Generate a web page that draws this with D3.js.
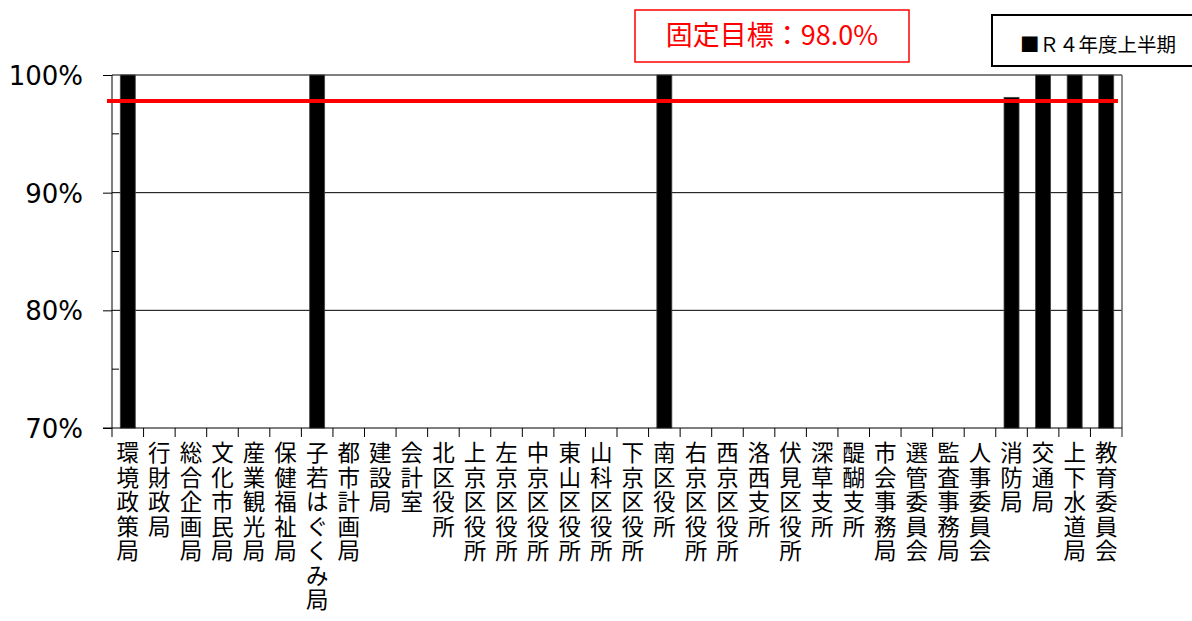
<!DOCTYPE html>
<html>
<head>
<meta charset="utf-8" />
<title>R4年度上半期</title>
<script src="https://d3js.org/d3.v7.min.js"></script>
<style>
  body { margin: 0; background: #fff; }
  svg { display: block; font-family: "Noto Sans CJK JP", "Noto Sans", sans-serif; }
</style>
</head>
<body>
<div id="chart"></div>
<script>
// 部局名
var categories = ["環境政策局","行財政局","総合企画局","文化市民局","産業観光局","保健福祉局","子若はぐくみ局","都市計画局","建設局","会計室","北区役所","上京区役所","左京区役所","中京区役所","東山区役所","山科区役所","下京区役所","南区役所","右京区役所","西京区役所","洛西支所","伏見区役所","深草支所","醍醐支所","市会事務局","選管委員会","監査事務局","人事委員会","消防局","交通局","上下水道局","教育委員会"];
// R4年度上半期 (%), 表示されていないものは null
var values = [100,null,null,null,null,null,100,null,null,null,null,null,null,null,null,null,null,100,null,null,null,null,null,null,null,null,null,null,98.1,100,100,100];
var targetLabel = "固定目標：98.0%";
var targetLine = 97.8;
var yTicks = [70, 80, 90, 100];
var seriesName = "■Ｒ４年度上半期";

var width = 1192, height = 621;
var pLeft = 112, pRight = 1122, pTop = 75, pBottom = 428;

var svg = d3.select("#chart").append("svg").attr("width", width).attr("height", height);

var x = d3.scaleBand().domain(categories).range([pLeft, pRight]).paddingInner(0.525).paddingOuter(0.2625);
var xb = d3.scaleBand().domain(categories).range([pLeft, pRight]);
var y = d3.scaleLinear().domain([70, 100]).range([pBottom, pTop]);

// グリッド線
svg.selectAll(".grid").data(yTicks.slice(1)).enter().append("line")
  .attr("x1", pLeft).attr("x2", pRight)
  .attr("y1", d => y(d)).attr("y2", d => y(d))
  .attr("stroke", "#000").attr("stroke-width", 1);

// 右枠
svg.append("line").attr("x1", pRight).attr("x2", pRight).attr("y1", pTop).attr("y2", pBottom + 9)
  .attr("stroke", "#666").attr("stroke-width", 1.5);

// Y軸
var yAxis = d3.axisLeft(y).tickValues(yTicks).tickSize(9).tickFormat(d => d + "%");
var gy = svg.append("g").attr("transform", "translate(" + pLeft + ",0)").call(yAxis);
gy.attr("font-family", null);
gy.select(".domain").attr("d", "M0," + pTop + "V" + (pBottom + 9)).attr("stroke", "#000");
gy.selectAll("text").attr("font-size", 26).attr("x", -29).attr("dy", "0.36em").attr("fill", "#000")
  .style("font-family", "'DejaVu Sans', Verdana, sans-serif");
// 補助目盛
svg.selectAll(".minor").data([75, 85, 95]).enter().append("line")
  .attr("x1", pLeft).attr("x2", pLeft + 7)
  .attr("y1", d => y(d)).attr("y2", d => y(d)).attr("stroke", "#000");

// 棒
svg.selectAll(".bar").data(categories.map((c, i) => ({c: c, v: values[i]})).filter(d => d.v != null))
  .enter().append("rect")
  .attr("x", d => x(d.c)).attr("width", x.bandwidth())
  .attr("y", d => y(Math.min(d.v, 100))).attr("height", d => pBottom - y(Math.min(d.v, 100)))
  .attr("fill", "#000").attr("stroke", "#444").attr("stroke-width", 0.8);

// X軸
svg.append("line").attr("x1", pLeft - 9).attr("x2", pRight).attr("y1", pBottom).attr("y2", pBottom)
  .attr("stroke", "#000").attr("stroke-width", 1.2);
svg.selectAll(".xtick").data(categories.slice(1)).enter().append("line")
  .attr("x1", d => xb(d)).attr("x2", d => xb(d))
  .attr("y1", pBottom).attr("y2", pBottom + 9).attr("stroke", "#000");

// 縦書きラベル
var lab = svg.selectAll(".xl").data(categories).enter().append("text")
  .attr("font-size", 22.5).attr("text-anchor", "middle").attr("fill", "#000");
lab.selectAll("tspan").data(d => Array.from(d).map(ch => ({ch: ch, c: d}))).enter().append("tspan")
  .attr("x", d => xb(d.c) + xb.bandwidth() / 2)
  .attr("y", (d, i) => 461 + i * 24.5)
  .text(d => d.ch);

// 目標線
svg.append("line").attr("x1", pLeft - 5).attr("x2", pRight - 4)
  .attr("y1", y(targetLine)).attr("y2", y(targetLine))
  .attr("stroke", "#ff0000").attr("stroke-width", 4);

// 目標ラベル
svg.append("rect").attr("x", 635).attr("y", 10).attr("width", 274).attr("height", 52)
  .attr("fill", "#fff").attr("stroke", "#ff0000").attr("stroke-width", 1.5);
svg.append("text").attr("x", 772).attr("y", 36).attr("dy", "0.35em")
  .attr("text-anchor", "middle").attr("font-size", 27).attr("fill", "#ff0000").text(targetLabel);

// 凡例
svg.append("rect").attr("x", 992).attr("y", 15).attr("width", 210).attr("height", 51)
  .attr("fill", "#fff").attr("stroke", "#000").attr("stroke-width", 2);
svg.append("text").attr("x", 1098).attr("y", 45).attr("dy", "0.35em")
  .attr("text-anchor", "middle").attr("font-size", 19.5).attr("fill", "#000").text(seriesName);
</script>
</body>
</html>
